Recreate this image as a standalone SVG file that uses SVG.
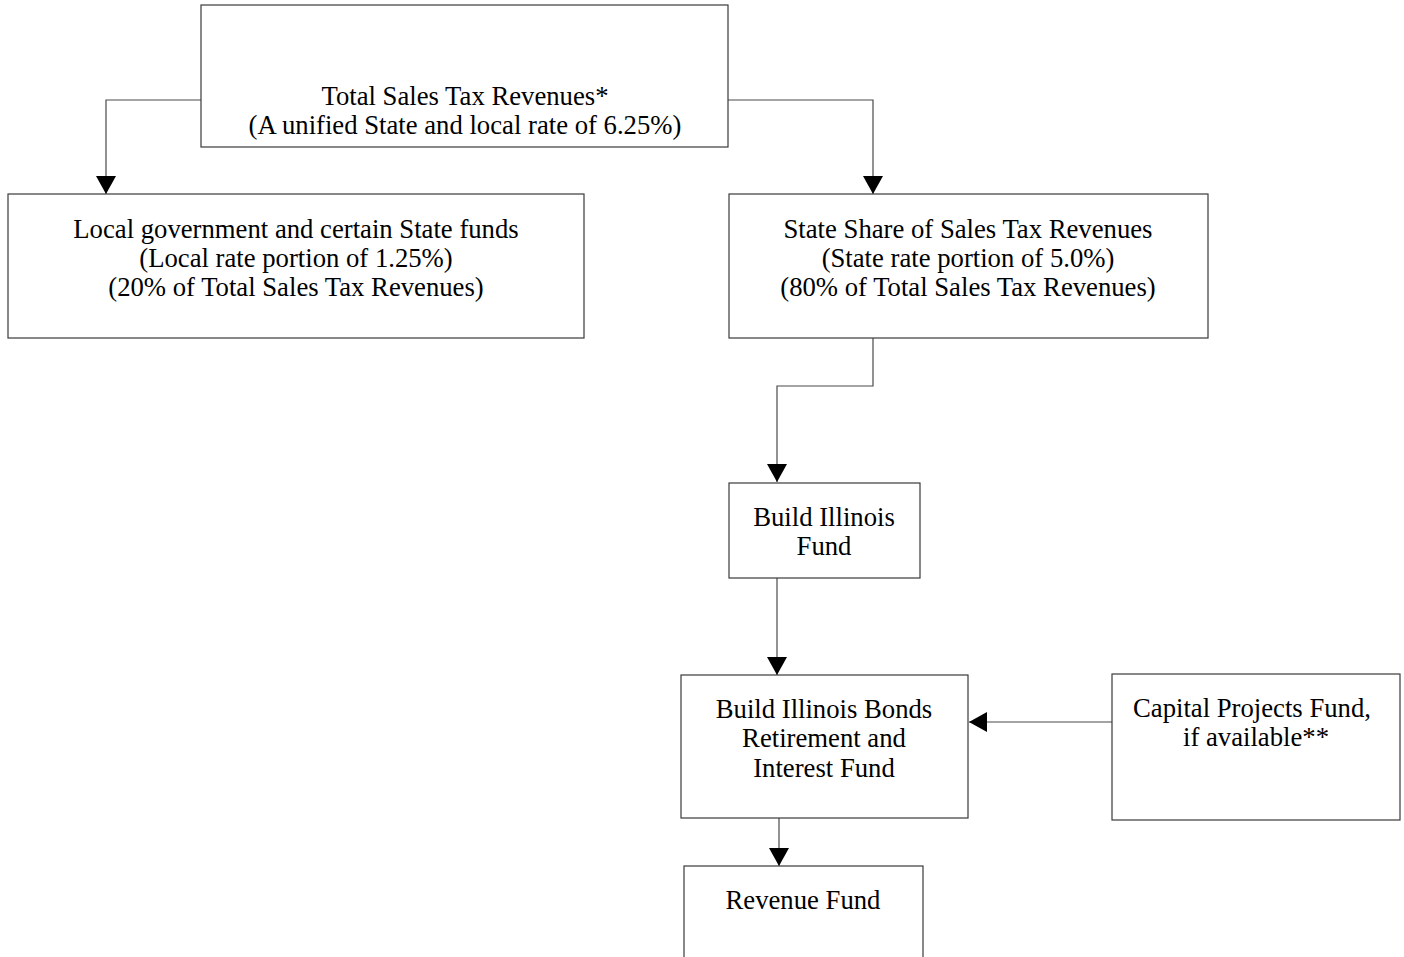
<svg xmlns="http://www.w3.org/2000/svg" width="1404" height="957" viewBox="0 0 1404 957">
<style>
.box{fill:#fff;stroke:#3a3a3a;stroke-width:1.2}
.t{font-family:"Liberation Serif","Times New Roman",serif;font-size:26.7px;fill:#000;text-anchor:middle}
.c{fill:none;stroke:#4a4a4a;stroke-width:1.2}
</style>
<defs>
<marker id="ah" markerUnits="userSpaceOnUse" markerWidth="22" markerHeight="20" refX="18" refY="10" orient="auto">
<path d="M0,0 L18,10 L0,20 Z" fill="#000"/>
</marker>
</defs>
<rect width="1404" height="957" fill="#fff"/>
<g id="connectors">
<path class="c" d="M201,100 H106 V194" marker-end="url(#ah)"/>
<path class="c" d="M725,100 H873 V194" marker-end="url(#ah)"/>
<path class="c" d="M873,338 V386 H777 V482" marker-end="url(#ah)"/>
<path class="c" d="M777,578 V675" marker-end="url(#ah)"/>
<path class="c" d="M1112,722 H969" marker-end="url(#ah)"/>
<path class="c" d="M779,818 V866" marker-end="url(#ah)"/>
</g>
<g id="total">
<rect class="box" x="201" y="5" width="527" height="142"/>
<text class="t" x="465" y="105">Total Sales Tax Revenues*</text>
<text class="t" x="465" y="134">(A unified State and local rate of 6.25%)</text>
</g>
<g id="local">
<rect class="box" x="8" y="194" width="576" height="144"/>
<text class="t" x="296" y="238">Local government and certain State funds</text>
<text class="t" x="296" y="267">(Local rate portion of 1.25%)</text>
<text class="t" x="296" y="296">(20% of Total Sales Tax Revenues)</text>
</g>
<g id="state">
<rect class="box" x="729" y="194" width="479" height="144"/>
<text class="t" x="968" y="238">State Share of Sales Tax Revenues</text>
<text class="t" x="968" y="267">(State rate portion of 5.0%)</text>
<text class="t" x="968" y="296">(80% of Total Sales Tax Revenues)</text>
</g>
<g id="build">
<rect class="box" x="729" y="483" width="191" height="95"/>
<text class="t" x="824" y="526">Build Illinois</text>
<text class="t" x="824" y="555">Fund</text>
</g>
<g id="bibrif">
<rect class="box" x="681" y="675" width="287" height="143"/>
<text class="t" x="824" y="718">Build Illinois Bonds</text>
<text class="t" x="824" y="747">Retirement and</text>
<text class="t" x="824" y="777">Interest Fund</text>
</g>
<g id="capital">
<rect class="box" x="1112" y="674" width="288" height="146"/>
<text class="t" x="1252" y="717">Capital Projects Fund,</text>
<text class="t" x="1256" y="746">if available**</text>
</g>
<g id="revenue">
<rect class="box" x="684" y="866" width="239" height="100"/>
<text class="t" x="803" y="909">Revenue Fund</text>
</g>
</svg>
